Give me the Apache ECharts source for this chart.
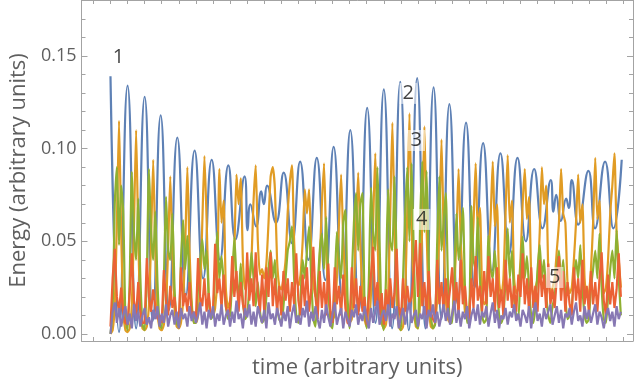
<!DOCTYPE html>
<html>
<head>
<meta charset="utf-8">
<title>Energy</title>
<script src="https://cdn.jsdelivr.net/npm/echarts@6/dist/echarts.min.js"></script>
<style>
  html, body { margin: 0; padding: 0; background: #fff; }
  #chart { width: 634px; height: 388px; }
</style>
</head>
<body>
<div id="chart"></div>
<script>
// time is in samples; one frame tick = 8 samples
// mode 1 is smooth, so only its turning points are kept
const blueTimes = [
  0, 4, 8, 12, 16, 19.8, 23.5, 27.4, 31.3, 35.3, 39.4, 43.4, 47.4, 51.3, 55.2, 58.5,
  62.8, 64.2, 65.5, 68.2, 70.6, 71.8, 73.3, 77.5, 81.1, 85, 88.8, 92.7, 96.6, 100.6,
  104.5, 108.4, 112.3, 116.2, 120.2, 124.1, 128, 131.9, 135.7, 139.7, 143.6, 147.5,
  151.3, 155, 158.7, 162.6, 166.5, 170.5, 174.5, 178.6, 182.6, 186.6, 190.6, 194.5,
  198.4, 202.3, 206.2, 207.4, 208.7, 210.9, 213.4, 214.6, 216, 219, 223.8, 226.9,
  231.6, 235.5, 239.4
]
const blueValues = [
  0.139, 0.001, 0.134, 0.003, 0.128, 0.007, 0.118, 0.013, 0.106, 0.021, 0.099, 0.030, 0.094, 0.040, 0.091, 0.051,
  0.085, 0.056, 0.070, 0.058, 0.077, 0.070, 0.080, 0.060, 0.087, 0.049, 0.093, 0.040, 0.095, 0.029,
  0.101, 0.020, 0.110, 0.012, 0.122, 0.006, 0.132, 0.003, 0.136, 0.002, 0.138, 0.003,
  0.133, 0.008, 0.124, 0.016, 0.114, 0.025, 0.103, 0.034, 0.0975, 0.043, 0.095, 0.050,
  0.089, 0.057, 0.083, 0.066, 0.075, 0.061, 0.073, 0.068, 0.083, 0.059, 0.088, 0.057,
  0.093, 0.057, 0.094
]

// modes 2-5, one value per sample
const orangeValues = [
  0.000, 0.002, 0.015, 0.060, 0.115, 0.055, 0.012, 0.002,
  0.001, 0.003, 0.016, 0.058, 0.110, 0.052, 0.012, 0.003,
  0.002, 0.004, 0.015, 0.050, 0.094, 0.046, 0.012, 0.003,
  0.002, 0.005, 0.016, 0.046, 0.085, 0.044, 0.014, 0.004,
  0.003, 0.006, 0.018, 0.048, 0.090, 0.046, 0.018, 0.006,
  0.006, 0.010, 0.024, 0.060, 0.096, 0.062, 0.022, 0.010,
  0.010, 0.014, 0.030, 0.089, 0.060, 0.072, 0.025, 0.014,
  0.018, 0.025, 0.045, 0.086, 0.070, 0.084, 0.040, 0.024,
  0.030, 0.028, 0.040, 0.072, 0.091, 0.050, 0.032, 0.035,
  0.030, 0.038, 0.060, 0.085, 0.090, 0.078, 0.040, 0.026,
  0.024, 0.030, 0.040, 0.066, 0.082, 0.091, 0.050, 0.030,
  0.026, 0.032, 0.050, 0.078, 0.065, 0.078, 0.045, 0.028,
  0.020, 0.022, 0.040, 0.070, 0.092, 0.048, 0.020, 0.012,
  0.008, 0.010, 0.030, 0.060, 0.086, 0.050, 0.028, 0.010,
  0.006, 0.008, 0.024, 0.058, 0.087, 0.048, 0.022, 0.008,
  0.004, 0.006, 0.022, 0.060, 0.0975, 0.052, 0.020, 0.006,
  0.003, 0.005, 0.020, 0.065, 0.114, 0.060, 0.018, 0.004,
  0.002, 0.004, 0.020, 0.068, 0.119, 0.062, 0.016, 0.004,
  0.003, 0.018, 0.060, 0.112, 0.058, 0.016, 0.004, 0.003,
  0.006, 0.020, 0.058, 0.105, 0.055, 0.020, 0.008, 0.006,
  0.010, 0.025, 0.052, 0.089, 0.050, 0.030, 0.012, 0.010,
  0.014, 0.035, 0.060, 0.092, 0.055, 0.068, 0.025, 0.016,
  0.018, 0.040, 0.062, 0.093, 0.058, 0.070, 0.028, 0.020,
  0.030, 0.065, 0.0965, 0.060, 0.072, 0.030, 0.022, 0.025,
  0.040, 0.070, 0.089, 0.062, 0.074, 0.032, 0.020, 0.025,
  0.030, 0.055, 0.090, 0.070, 0.080, 0.035, 0.020, 0.025,
  0.030, 0.045, 0.060, 0.089, 0.065, 0.060, 0.028, 0.022,
  0.025, 0.040, 0.060, 0.086, 0.060, 0.070, 0.030, 0.020,
  0.022, 0.035, 0.060, 0.095, 0.062, 0.072, 0.030, 0.022,
  0.025, 0.040, 0.065, 0.080, 0.0975, 0.055, 0.040, 0.025
]
const greenValues = [
  0.000, 0.012, 0.070, 0.090, 0.048, 0.080, 0.065, 0.008,
  0.002, 0.030, 0.0875, 0.055, 0.040, 0.073, 0.030, 0.005,
  0.002, 0.030, 0.089, 0.055, 0.040, 0.066, 0.028, 0.005,
  0.003, 0.030, 0.074, 0.045, 0.040, 0.065, 0.025, 0.006,
  0.004, 0.040, 0.0615, 0.035, 0.053, 0.030, 0.015, 0.006,
  0.006, 0.025, 0.040, 0.051, 0.035, 0.045, 0.020, 0.008,
  0.010, 0.035, 0.055, 0.030, 0.042, 0.028, 0.015, 0.008,
  0.010, 0.030, 0.052, 0.030, 0.020, 0.038, 0.018, 0.008,
  0.010, 0.025, 0.044, 0.030, 0.015, 0.028, 0.012, 0.006,
  0.008, 0.020, 0.035, 0.045, 0.030, 0.040, 0.015, 0.008,
  0.006, 0.015, 0.030, 0.045, 0.050, 0.058, 0.030, 0.010,
  0.006, 0.020, 0.040, 0.030, 0.045, 0.058, 0.030, 0.008,
  0.004, 0.025, 0.045, 0.054, 0.035, 0.063, 0.030, 0.005,
  0.003, 0.025, 0.055, 0.040, 0.030, 0.060, 0.067, 0.020,
  0.003, 0.030, 0.060, 0.076, 0.045, 0.070, 0.076, 0.015,
  0.003, 0.030, 0.079, 0.055, 0.045, 0.090, 0.050, 0.008,
  0.002, 0.030, 0.078, 0.050, 0.045, 0.085, 0.040, 0.006,
  0.002, 0.030, 0.065, 0.090, 0.050, 0.092, 0.045, 0.006,
  0.003, 0.060, 0.093, 0.055, 0.088, 0.040, 0.010, 0.003,
  0.005, 0.050, 0.085, 0.045, 0.060, 0.076, 0.030, 0.006,
  0.006, 0.030, 0.065, 0.040, 0.050, 0.068, 0.025, 0.006,
  0.008, 0.069, 0.040, 0.035, 0.063, 0.030, 0.010, 0.006,
  0.008, 0.053, 0.035, 0.030, 0.045, 0.025, 0.010, 0.006,
  0.010, 0.030, 0.057, 0.030, 0.045, 0.020, 0.010, 0.008,
  0.035, 0.0525, 0.030, 0.042, 0.025, 0.010, 0.006, 0.015,
  0.035, 0.048, 0.030, 0.040, 0.022, 0.010, 0.006, 0.015,
  0.020, 0.035, 0.045, 0.028, 0.040, 0.020, 0.008, 0.010,
  0.015, 0.030, 0.040, 0.030, 0.048, 0.025, 0.010, 0.006,
  0.008, 0.025, 0.035, 0.045, 0.030, 0.054, 0.025, 0.008,
  0.006, 0.020, 0.035, 0.045, 0.030, 0.056, 0.030, 0.010
]
const redValues = [
  0.004, 0.030, 0.046, 0.020, 0.012, 0.025, 0.010, 0.006,
  0.005, 0.022, 0.0435, 0.018, 0.010, 0.028, 0.012, 0.006,
  0.006, 0.041, 0.020, 0.012, 0.024, 0.015, 0.008, 0.010,
  0.006, 0.0345, 0.018, 0.010, 0.026, 0.014, 0.020, 0.008,
  0.008, 0.036, 0.015, 0.022, 0.012, 0.028, 0.010, 0.012,
  0.008, 0.041, 0.020, 0.015, 0.030, 0.012, 0.022, 0.010,
  0.012, 0.0486, 0.022, 0.030, 0.014, 0.032, 0.015, 0.010,
  0.015, 0.042, 0.020, 0.034, 0.012, 0.028, 0.016, 0.010,
  0.044, 0.018, 0.030, 0.015, 0.044, 0.022, 0.012, 0.032,
  0.012, 0.036, 0.020, 0.044, 0.015, 0.030, 0.012, 0.026,
  0.010, 0.034, 0.018, 0.030, 0.012, 0.028, 0.016, 0.0435,
  0.018, 0.010, 0.032, 0.015, 0.036, 0.012, 0.024, 0.047,
  0.020, 0.008, 0.034, 0.014, 0.028, 0.010, 0.038, 0.012,
  0.006, 0.036, 0.016, 0.026, 0.010, 0.032, 0.014, 0.006,
  0.005, 0.036, 0.014, 0.030, 0.010, 0.026, 0.012, 0.020,
  0.005, 0.020, 0.032, 0.047, 0.015, 0.028, 0.010, 0.022,
  0.005, 0.024, 0.012, 0.030, 0.014, 0.022, 0.046, 0.015,
  0.008, 0.030, 0.012, 0.026, 0.016, 0.020, 0.034, 0.0507,
  0.020, 0.049, 0.015, 0.028, 0.010, 0.034, 0.012, 0.008,
  0.006, 0.040, 0.016, 0.028, 0.012, 0.030, 0.014, 0.024,
  0.036, 0.014, 0.028, 0.010, 0.040, 0.016, 0.026, 0.010,
  0.008, 0.030, 0.014, 0.042, 0.018, 0.026, 0.012, 0.034,
  0.016, 0.042, 0.020, 0.030, 0.012, 0.036, 0.014, 0.024,
  0.010, 0.040, 0.018, 0.030, 0.014, 0.026, 0.012, 0.032,
  0.020, 0.0435, 0.016, 0.030, 0.012, 0.036, 0.014, 0.026,
  0.012, 0.040, 0.020, 0.032, 0.014, 0.038, 0.016, 0.024,
  0.014, 0.030, 0.042, 0.018, 0.034, 0.012, 0.028, 0.016,
  0.010, 0.036, 0.018, 0.030, 0.012, 0.040, 0.016, 0.026,
  0.012, 0.034, 0.016, 0.028, 0.012, 0.030, 0.044, 0.018,
  0.010, 0.032, 0.016, 0.028, 0.014, 0.024, 0.0435, 0.020
]
const purpleValues = [
  0.000, 0.012, 0.017, 0.006, 0.014, 0.004, 0.010, 0.015,
  0.005, 0.011, 0.003, 0.016, 0.007, 0.012, 0.004, 0.010,
  0.014, 0.005, 0.009, 0.003, 0.013, 0.008, 0.015, 0.004,
  0.011, 0.006, 0.016, 0.004, 0.010, 0.013, 0.005, 0.012,
  0.003, 0.014, 0.008, 0.011, 0.004, 0.015, 0.007, 0.012,
  0.006, 0.010, 0.017, 0.005, 0.012, 0.003, 0.013, 0.008,
  0.015, 0.004, 0.011, 0.007, 0.016, 0.005, 0.010, 0.013,
  0.004, 0.012, 0.006, 0.018, 0.008, 0.011, 0.003, 0.014,
  0.009, 0.016, 0.005, 0.012, 0.004, 0.015, 0.010, 0.006,
  0.013, 0.003, 0.017, 0.008, 0.011, 0.005, 0.014, 0.009,
  0.004, 0.012, 0.007, 0.015, 0.003, 0.011, 0.016, 0.006,
  0.010, 0.005, 0.014, 0.009, 0.018, 0.004, 0.012, 0.007,
  0.015, 0.008, 0.003, 0.013, 0.006, 0.016, 0.009, 0.004,
  0.011, 0.017, 0.005, 0.010, 0.014, 0.003, 0.012, 0.008,
  0.004, 0.013, 0.009, 0.016, 0.005, 0.011, 0.007, 0.015,
  0.008, 0.003, 0.014, 0.006, 0.012, 0.018, 0.005, 0.010,
  0.013, 0.007, 0.016, 0.004, 0.011, 0.008, 0.015, 0.003,
  0.009, 0.014, 0.005, 0.012, 0.017, 0.006, 0.010, 0.013,
  0.004, 0.011, 0.008, 0.015, 0.003, 0.013, 0.009, 0.016,
  0.006, 0.012, 0.004, 0.010, 0.016, 0.007, 0.014, 0.005,
  0.011, 0.018, 0.006, 0.013, 0.004, 0.012, 0.008, 0.015,
  0.003, 0.010, 0.014, 0.007, 0.016, 0.005, 0.012, 0.009,
  0.015, 0.004, 0.011, 0.017, 0.006, 0.013, 0.003, 0.010,
  0.008, 0.014, 0.005, 0.012, 0.009, 0.016, 0.007, 0.011,
  0.004, 0.013, 0.010, 0.006, 0.015, 0.003, 0.012, 0.017,
  0.007, 0.011, 0.004, 0.014, 0.008, 0.012, 0.016, 0.005,
  0.010, 0.015, 0.006, 0.013, 0.003, 0.011, 0.009, 0.014,
  0.005, 0.012, 0.017, 0.007, 0.010, 0.004, 0.015, 0.008,
  0.013, 0.006, 0.011, 0.016, 0.005, 0.012, 0.009, 0.003,
  0.010, 0.014, 0.007, 0.012, 0.004, 0.015, 0.008, 0.012
]

const xTicks = [
  -8, 0, 8, 16, 24, 32, 40, 48, 56, 64, 72, 80, 88, 96, 104, 112,
  120, 128, 136, 144, 152, 160, 168, 176, 184, 192, 200, 208, 216, 224, 232, 240
]
const yMajorTicks = [0, 0.05, 0.1, 0.15]
const yMinorTicks = [0.01, 0.02, 0.03, 0.04, 0.06, 0.07, 0.08, 0.09, 0.11, 0.12, 0.13, 0.14, 0.16, 0.17]

// [time, energy, text]
const callouts = [
  [3.7, 0.1495, '1'],
  [139.4, 0.1298, '2'],
  [143.2, 0.1044, '3'],
  [145.7, 0.0618, '4'],
  [208.0, 0.0305, '5']
]

const X_MIN = -13.57
const X_MAX = 244.68
const Y_MIN = -0.0038
const Y_MAX = 0.1802

const frameColor = '#a3a3a3'
const textColor = '#5f5f5f'
const fontFamily = '"Open Sans", "DejaVu Sans", sans-serif'

const withTime = values => values.map((v, i) => [i, v])

function lineSeries (name, data, color, smooth) {
  return {
    name: name,
    type: 'line',
    data: data,
    smooth: smooth,
    symbol: 'none',
    lineStyle: { color: color, width: 2.2 },
    itemStyle: { color: color }
  }
}

function xFrame (position, withName) {
  const axis = {
    type: 'value',
    position: position,
    min: X_MIN,
    max: X_MAX,
    axisLine: { show: true, onZero: false, lineStyle: { color: frameColor, width: 1 } },
    axisTick: { show: true, inside: true, length: 4, customValues: xTicks, lineStyle: { color: frameColor } },
    axisLabel: { show: false },
    splitLine: { show: false }
  }
  if (withName) {
    axis.name = 'time (arbitrary units)'
    axis.nameLocation = 'middle'
    axis.nameGap = 16
    axis.nameTextStyle = { color: textColor, fontSize: 22, fontFamily: fontFamily }
  }
  return axis
}

function yFrame (position, ticks, tickLength, showLine) {
  return {
    type: 'value',
    position: position,
    min: Y_MIN,
    max: Y_MAX,
    axisLine: { show: showLine, onZero: false, lineStyle: { color: frameColor, width: 1 } },
    axisTick: { show: true, inside: true, length: tickLength, customValues: ticks, lineStyle: { color: frameColor } },
    axisLabel: { show: false },
    splitLine: { show: false }
  }
}

const leftAxis = yFrame('left', yMajorTicks, 6, true)
leftAxis.axisLabel = {
  show: true,
  customValues: yMajorTicks,
  formatter: v => v.toFixed(2),
  margin: 5,
  color: textColor,
  fontSize: 18,
  fontFamily: fontFamily
}
leftAxis.name = 'Energy (arbitrary units)'
leftAxis.nameLocation = 'middle'
leftAxis.nameRotate = 90
leftAxis.nameGap = 50
leftAxis.nameTextStyle = { color: textColor, fontSize: 22, fontFamily: fontFamily }

const chart = echarts.init(document.getElementById('chart'), null, { renderer: 'canvas' })
chart.setOption({
  animation: false,
  backgroundColor: '#ffffff',
  grid: { left: 81, right: 1, top: 0, bottom: 47 },
  xAxis: [xFrame('bottom', true), xFrame('top', false)],
  yAxis: [
    leftAxis,
    yFrame('left', yMinorTicks, 4, false),
    yFrame('right', yMajorTicks, 6, true),
    yFrame('right', yMinorTicks, 4, false)
  ],
  series: [
    lineSeries('1', blueTimes.map((t, i) => [t, blueValues[i]]), '#5e81b5', true),
    lineSeries('2', withTime(orangeValues), '#e19c24', 0.2),
    lineSeries('3', withTime(greenValues), '#8fb032', 0.2),
    lineSeries('4', withTime(redValues), '#eb6235', false),
    lineSeries('5', withTime(purpleValues), '#8778b3', false),
    {
      type: 'scatter',
      symbolSize: 1,
      itemStyle: { color: 'rgba(0,0,0,0)' },
      z: 10,
      data: callouts.map(c => ({ value: [c[0], c[1]], label: { formatter: c[2] } })),
      label: {
        show: true,
        position: 'inside',
        color: '#111',
        fontSize: 20,
        fontFamily: fontFamily,
        backgroundColor: 'rgba(255,255,255,0.72)',
        padding: [1, 3, 0, 3]
      }
    }
  ]
})
</script>
</body>
</html>
